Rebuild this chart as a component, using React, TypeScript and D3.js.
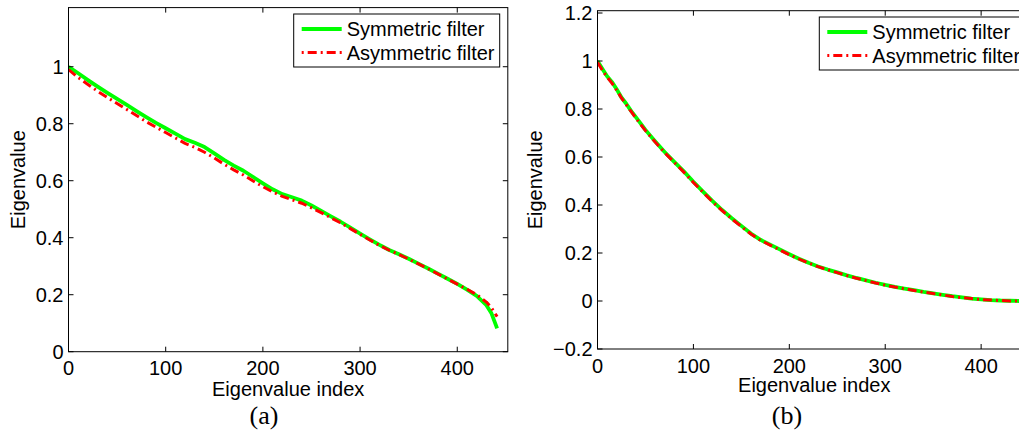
import React from "react";
import * as d3 from "d3";

// ---------- data ----------
const indexA = [0, 10, 20, 30, 40, 50, 60, 70, 80, 90, 100, 110, 120, 130, 140, 150, 160, 170, 180, 190, 200, 210, 220, 230, 240, 250, 260, 270, 280, 290, 300, 310, 320, 330, 340, 350, 360, 370, 380, 390, 400, 410, 420, 430, 435, 441];
const symmetricA = [1.000, 0.977, 0.953, 0.930, 0.908, 0.887, 0.866, 0.844, 0.823, 0.803,
  0.784, 0.765, 0.746, 0.733, 0.718, 0.696, 0.673, 0.653, 0.635, 0.613,
  0.591, 0.570, 0.553, 0.542, 0.530, 0.513, 0.494, 0.475, 0.456, 0.435,
  0.414, 0.394, 0.375, 0.357, 0.342, 0.326, 0.309, 0.292, 0.274, 0.256,
  0.238, 0.218, 0.196, 0.163, 0.136, 0.082];
const asymmetricA = [0.990, 0.962, 0.938, 0.914, 0.892, 0.871, 0.850, 0.829, 0.807, 0.788,
  0.769, 0.750, 0.731, 0.717, 0.700, 0.680, 0.658, 0.638, 0.620, 0.599,
  0.579, 0.561, 0.545, 0.533, 0.521, 0.505, 0.488, 0.470, 0.452, 0.432,
  0.412, 0.392, 0.373, 0.356, 0.341, 0.325, 0.308, 0.291, 0.273, 0.255,
  0.237, 0.219, 0.200, 0.174, 0.155, 0.123];

const indexB = [0, 5, 10, 15, 20, 25, 30, 35, 40, 50, 60, 70, 80, 90, 100, 110, 120, 130, 140, 150, 160, 170, 180, 190, 200, 210, 220, 230, 240, 250, 260, 270, 280, 290, 300, 310, 320, 330, 340, 350, 360, 370, 380, 390, 400, 410, 420, 430, 440];
const symmetricB = [1.000, 0.968, 0.936, 0.913, 0.882, 0.848, 0.822, 0.792, 0.766,
  0.713, 0.666, 0.621, 0.580, 0.540, 0.497, 0.456, 0.416, 0.379, 0.345,
  0.313, 0.281, 0.255, 0.235, 0.215, 0.195, 0.176, 0.159, 0.144, 0.131,
  0.119, 0.107, 0.096, 0.086, 0.076, 0.067, 0.059, 0.052, 0.045, 0.038,
  0.032, 0.026, 0.020, 0.015, 0.010, 0.007, 0.004, 0.002, 0.001, 0.000];
const asymmetricB = [0.995, 0.962, 0.933, 0.908, 0.878, 0.846, 0.818, 0.790, 0.762,
  0.710, 0.663, 0.618, 0.578, 0.537, 0.494, 0.453, 0.413, 0.377, 0.342,
  0.310, 0.279, 0.253, 0.233, 0.213, 0.193, 0.175, 0.158, 0.143, 0.130,
  0.118, 0.106, 0.095, 0.085, 0.075, 0.066, 0.058, 0.051, 0.044, 0.037,
  0.031, 0.025, 0.019, 0.014, 0.010, 0.006, 0.004, 0.002, 0.000, 0.000];

const xTicks = [0, 100, 200, 300, 400];
const xTickLabels = ["0", "100", "200", "300", "400"];
const yTicksA = [0, 0.2, 0.4, 0.6, 0.8, 1];
const yTickLabelsA = ["0", "0.2", "0.4", "0.6", "0.8", "1"];
const yTicksB = [-0.2, 0, 0.2, 0.4, 0.6, 0.8, 1, 1.2];
const yTickLabelsB = ["\u22120.2", "0", "0.2", "0.4", "0.6", "0.8", "1", "1.2"];
const seriesNames = ["Symmetric filter", "Asymmetric filter"];
const xLabel = "Eigenvalue index";
const yLabel = "Eigenvalue";
const captions = ["(a)", "(b)"];

const FONT = "'Liberation Sans', Arial, Helvetica, sans-serif";
const GREEN = "#00ff00";
const RED = "#ff0000";

type PanelProps = {
  id: string;
  left: number; right: number; top: number; bottom: number;
  xMax: number; yMin: number; yMax: number;
  idx: number[]; sym: number[]; asym: number[];
  yTicks: number[]; yTickLabels: string[];
  legendX: number; legendY: number;
  yLabelX: number; xLabelY: number; caption: string; captionX: number;
};

function Panel(p: PanelProps) {
  const x = d3.scaleLinear().domain([0, p.xMax]).range([p.left, p.right]);
  const y = d3.scaleLinear().domain([p.yMin, p.yMax]).range([p.bottom, p.top]);
  const line = d3.line<number>().x((_, i) => x(p.idx[i])).y((v) => y(v));
  const tl = 5;
  const legW = 206;
  const legH = 53;
  return (
    <g>
      <clipPath id={p.id}>
        <rect x={p.left} y={p.top} width={p.right - p.left} height={p.bottom - p.top} />
      </clipPath>
      <rect x={p.left} y={p.top} width={p.right - p.left} height={p.bottom - p.top} fill="white" />
      <g clipPath={`url(#${p.id})`}>
        <path d={line(p.sym) || ""} fill="none" stroke={GREEN} strokeWidth={3.8} strokeLinejoin="round" />
        <path d={line(p.asym) || ""} fill="none" stroke={RED} strokeWidth={3} strokeDasharray="9,4,2,4" strokeLinejoin="round" />
      </g>
      {/* box */}
      <rect x={p.left} y={p.top} width={p.right - p.left} height={p.bottom - p.top} fill="none" stroke="black" strokeWidth={1} />
      {/* x ticks */}
      {xTicks.map((t, i) => (
        <g key={"x" + i}>
          <line x1={x(t)} x2={x(t)} y1={p.bottom} y2={p.bottom - tl} stroke="black" />
          <line x1={x(t)} x2={x(t)} y1={p.top} y2={p.top + tl} stroke="black" />
          <text x={x(t)} y={p.bottom + 23.5} textAnchor="middle" fontFamily={FONT} fontSize={20} fill="black">{xTickLabels[i]}</text>
        </g>
      ))}
      {p.yTicks.map((t, i) => (
        <g key={"y" + i}>
          <line x1={p.left} x2={p.left + tl} y1={y(t)} y2={y(t)} stroke="black" />
          <line x1={p.right} x2={p.right - tl} y1={y(t)} y2={y(t)} stroke="black" />
          <text x={p.left - 5} y={y(t) + 7} textAnchor="end" fontFamily={FONT} fontSize={20} fill="black">{p.yTickLabels[i]}</text>
        </g>
      ))}
      <text x={(p.left + p.right) / 2} y={p.xLabelY} textAnchor="middle" fontFamily={FONT} fontSize={20} fill="black">{xLabel}</text>
      <text transform={`translate(${p.yLabelX},${(p.top + p.bottom) / 2}) rotate(-90)`} textAnchor="middle" fontFamily={FONT} fontSize={20} fill="black">{yLabel}</text>
      <text x={p.captionX} y={423.5} textAnchor="middle" fontFamily="'Liberation Serif', 'Times New Roman', serif" fontSize={26} fill="black">{p.caption}</text>
      {/* legend */}
      <g transform={`translate(${p.legendX},${p.legendY})`}>
        <rect x={0} y={0} width={legW} height={legH} fill="white" stroke="black" strokeWidth={1} />
        <line x1={8} x2={48} y1={15} y2={15} stroke={GREEN} strokeWidth={3.8} />
        <text x={53} y={22} fontFamily={FONT} fontSize={20} fill="black">{seriesNames[0]}</text>
        <line x1={8} x2={48} y1={38.5} y2={38.5} stroke={RED} strokeWidth={3} strokeDasharray="2,4,9,4" />
        <text x={53} y={45.5} fontFamily={FONT} fontSize={20} fill="black">{seriesNames[1]}</text>
      </g>
    </g>
  );
}

export default function App() {
  return (
    <svg width={1019} height={431} style={{ position: "absolute", left: 0, top: 0, background: "white" }}>
      <rect x={0} y={0} width={1019} height={431} fill="white" />
      <Panel id="clipA" left={68.5} right={507.8} top={7.6} bottom={351.7} xMax={452} yMin={0} yMax={1.2075}
        idx={indexA} sym={symmetricA} asym={asymmetricA} yTicks={yTicksA} yTickLabels={yTickLabelsA}
        legendX={293.7} legendY={14} yLabelX={25} xLabelY={396} caption={captions[0]} captionX={264} />
      <Panel id="clipB" left={597.5} right={1031} top={10.7} bottom={349} xMax={452} yMin={-0.2} yMax={1.2096}
        idx={indexB} sym={symmetricB} asym={asymmetricB} yTicks={yTicksB} yTickLabels={yTickLabelsB}
        legendX={819.3} legendY={17} yLabelX={542} xLabelY={391.5} caption={captions[1]} captionX={787} />
    </svg>
  );
}
